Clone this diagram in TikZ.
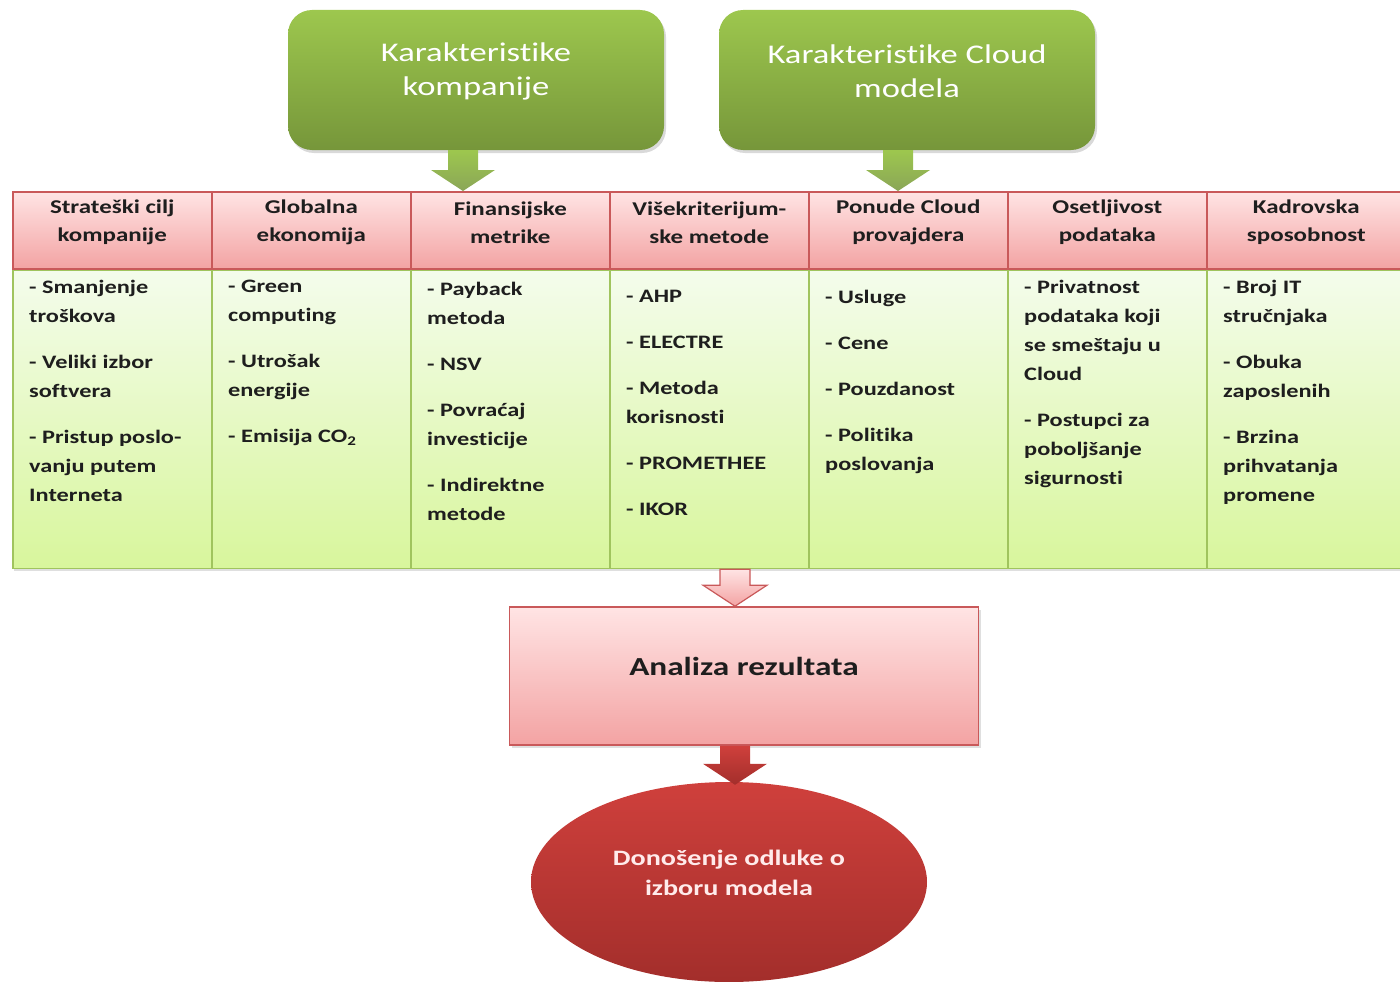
\documentclass[tikz,border=0pt]{standalone}
\usepackage{fontspec}
\setmainfont{Carlito}[FakeStretch=1.28,Ligatures=NoCommon]
\usetikzlibrary{shapes.geometric,shadows}

\definecolor{boxtop}{HTML}{9DC74E}
\definecolor{boxbot}{HTML}{76963A}
\definecolor{headtop}{HTML}{FFE4E4}
\definecolor{headbot}{HTML}{F3A3A3}
\definecolor{headline}{HTML}{C9595A}
\definecolor{celltop}{HTML}{F4FCEC}
\definecolor{cellbot}{HTML}{D8F69C}
\definecolor{cellline}{HTML}{A0C45E}
\definecolor{redtop}{HTML}{CF403C}
\definecolor{redbot}{HTML}{A32E2B}
\definecolor{inktext}{HTML}{1E1E1E}

\begin{document}
\begin{tikzpicture}[x=1pt,y=-1pt,font=\fontsize{19}{29}\selectfont\bfseries,text=inktext]
    \tikzstyle{green box}=[draw=none,rounded corners=24pt,top color=boxtop,bottom color=boxbot,minimum width=376pt,minimum height=140pt,drop shadow={opacity=0.3,shadow xshift=2pt,shadow yshift=-3pt}]
    \tikzstyle{box text}=[align=center,text=white,font=\fontsize{27}{34}\selectfont]
    \tikzstyle{head cell}=[draw=headline,line width=1.6pt,top color=headtop,bottom color=headbot,anchor=north west,minimum width=199pt,minimum height=77pt]
    \tikzstyle{head text}=[align=center,inner sep=0pt,font=\fontsize{19.5}{28}\selectfont\bfseries]
    \tikzstyle{body cell}=[draw=cellline,line width=1.6pt,top color=celltop,bottom color=cellbot,anchor=north west,minimum width=199pt,minimum height=298pt,drop shadow={opacity=0.25,shadow xshift=1pt,shadow yshift=-3pt}]
    \tikzstyle{item text}=[align=left,anchor=north west,inner sep=0pt]
    \tikzstyle{pink box}=[draw=headline,line width=1.6pt,top color=headtop,bottom color=headbot,minimum width=469pt,minimum height=138pt,drop shadow={opacity=0.25,shadow xshift=2pt,shadow yshift=-3pt}]
    \tikzstyle{decision}=[ellipse,draw=none,top color=redtop,bottom color=redbot,minimum width=396pt,minimum height=200pt,inner sep=0pt]
    \tikzstyle{block arrow}=[to path={([xshift=-15pt]\tikztostart) -- ([xshift=-15pt,yshift=21pt]\tikztotarget) -- ([xshift=-32pt,yshift=21pt]\tikztotarget) -- (\tikztotarget) -- ([xshift=32pt,yshift=21pt]\tikztotarget) -- ([xshift=15pt,yshift=21pt]\tikztotarget) -- ([xshift=15pt]\tikztostart) -- cycle}]
    \tikzstyle{green arrow}=[block arrow,draw=none,top color=boxtop,bottom color=boxbot!85!white]
    \tikzstyle{pink arrow}=[block arrow,draw=headline,line width=1.2pt,top color=headtop,bottom color=headbot]
    \tikzstyle{red arrow}=[block arrow,draw=none,top color=redtop,bottom color=redbot]

    \useasboundingbox (0,0) rectangle (1400,982);

    \node(k1)[green box] at (476,80){};
    \node(k1t)[box text] at ([yshift=9pt]k1.center){Karakteristike\\kompanije};
    \node(k2)[green box] at (907,80){};
    \node(k2t)[box text] at ([yshift=9pt]k2.center){Karakteristike Cloud\\modela};

    \foreach \i/\head in {1/{Strateški cilj\\kompanije},2/{Globalna\\ekonomija},3/{Finansijske\\metrike},4/{Višekriterijum-\\ske metode},5/{Ponude Cloud\\provajdera},6/{Osetljivost\\podataka},7/{Kadrovska\\sposobnost}}{
        \node(h\i)[head cell] at ({12+199*(\i-1)},191){};
        \node(ht\i)[head text] at ([yshift=8pt]h\i.center){\head};
        \node(c\i)[body cell] at (h\i.south west){};
    }

    \foreach \i/\dy/\items in {
        1/10pt/{- Smanjenje\\troškova\\[17pt]- Veliki izbor\\softvera\\[17pt]- Pristup poslo-\\vanju putem\\Interneta},
        2/10pt/{- Green\\computing\\[17pt]- Utrošak\\energije\\[17pt]- Emisija CO\textsubscript{2}},
        3/12pt/{- Payback\\metoda\\[17pt]- NSV\\[17pt]- Povraćaj\\investicije\\[17pt]- Indirektne\\metode},
        4/20pt/{- AHP\\[17pt]- ELECTRE\\[17pt]- Metoda\\korisnosti\\[17pt]- PROMETHEE\\[17pt]- IKOR},
        5/20pt/{- Usluge\\[17pt]- Cene\\[17pt]- Pouzdanost\\[17pt]- Politika\\poslovanja},
        6/10pt/{- Privatnost\\podataka koji\\se smeštaju u\\Cloud\\[17pt]- Postupci za\\poboljšanje\\sigurnosti},
        7/10pt/{- Broj IT\\stručnjaka\\[17pt]- Obuka\\zaposlenih\\[17pt]- Brzina\\prihvatanja\\promene}}
        \node(t\i)[item text] at ([xshift=17pt,yshift=-\dy]c\i.north west){\items};

    \node(an)[pink box] at (744,676){};
    \node(ant)[font=\fontsize{26}{30}\selectfont\bfseries] at ([yshift=10pt]an.center){Analiza rezultata};
    \node(el)[decision] at (729,882){};
    \node(elt)[align=center,text=white!92!red,font=\fontsize{22}{30}\selectfont\bfseries] at ([yshift=9pt]el.center){Donošenje odluke o\\izboru modela};

    \coordinate(a1) at ([xshift=-13pt]k1.south);
    \coordinate(a1e) at (a1 |- h3.north);
    \coordinate(a2) at ([xshift=-9pt]k2.south);
    \coordinate(a2e) at (a2 |- h5.north);
    \coordinate(p1) at ([xshift=-9pt]an.north |- c4.south);
    \coordinate(p1e) at (p1 |- an.north);
    \coordinate(r1) at (p1 |- an.south);
    \coordinate(r1e) at ([yshift=-3pt]r1 |- el.north);

    \draw[green arrow] (a1) to (a1e);
    \draw[green arrow] (a2) to (a2e);
    \draw[pink arrow] (p1) to (p1e);
    \draw[red arrow] (r1) to (r1e);
\end{tikzpicture}
\end{document}
